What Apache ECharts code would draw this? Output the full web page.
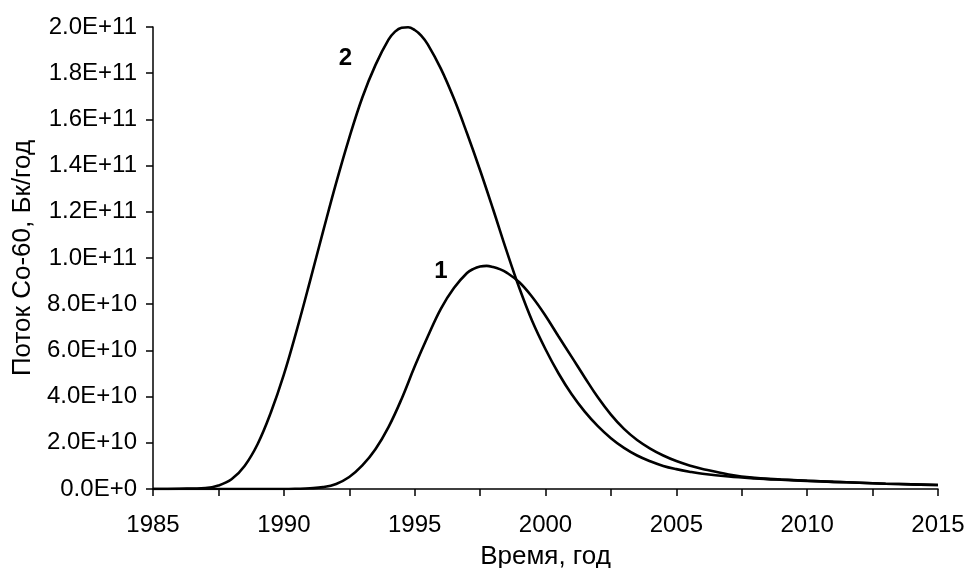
<!DOCTYPE html>
<html>
<head>
<meta charset="utf-8">
<script src="https://cdn.jsdelivr.net/npm/echarts@6/dist/echarts.min.js"></script>
<style>
  html, body { margin: 0; padding: 0; background: #fff; }
  #chart-container { width: 967px; height: 568px; }
</style>
</head>
<body>
<div id="chart-container"></div>
<script>
// Co-60 flux, in units of 1E10 Bq/year, against year
var years1 = [1985, 1986, 1987, 1988, 1989, 1990, 1990.5,
  1991, 1991.5, 1992, 1992.5, 1993, 1993.5, 1994, 1994.5, 1995, 1995.5,
  1996, 1996.5, 1997, 1997.25, 1997.5, 1997.75, 1998, 1998.25, 1998.5, 1999, 1999.5, 2000, 2000.5,
  2001, 2001.5, 2002, 2002.5, 2003, 2003.5, 2004, 2004.5, 2005, 2005.5, 2006,
  2007, 2008, 2009, 2010, 2011, 2012, 2013, 2014, 2015];
var flux1 = [0, 0, 0, 0, 0, 0, 0.01,
  0.03, 0.08, 0.22, 0.52, 1.02, 1.72, 2.68, 3.9, 5.3, 6.6,
  7.8, 8.7, 9.35, 9.53, 9.63, 9.66, 9.61, 9.52, 9.38, 8.95, 8.3, 7.5, 6.6,
  5.72, 4.83, 3.97, 3.22, 2.6, 2.12, 1.75, 1.45, 1.21, 1.02, 0.87,
  0.63, 0.48, 0.41, 0.36, 0.31, 0.27, 0.23, 0.2, 0.17];

var years2 = [1985, 1986, 1987, 1987.5, 1988, 1988.5, 1989, 1989.5, 1990, 1990.5,
  1991, 1991.5, 1992, 1992.5, 1993, 1993.5, 1994, 1994.25, 1994.5, 1994.75, 1995, 1995.25, 1995.5,
  1996, 1996.5, 1997, 1997.5, 1998, 1998.5, 1999, 1999.5, 2000, 2000.5,
  2001, 2001.5, 2002, 2002.5, 2003, 2003.5, 2004, 2004.5, 2005, 2005.5, 2006,
  2007, 2008, 2009, 2010, 2011, 2012, 2013, 2014, 2015];
var flux2 = [0, 0.01, 0.04, 0.15, 0.42, 1.0, 1.95, 3.3, 4.95, 6.9,
  9.0, 11.15, 13.25, 15.2, 16.95, 18.35, 19.45, 19.8, 19.97, 19.99, 19.87, 19.63, 19.25,
  18.2, 16.9, 15.4, 13.8, 12.1, 10.35, 8.7, 7.25, 6.05, 5.0,
  4.1, 3.35, 2.72, 2.2, 1.78, 1.45, 1.2, 1.0, 0.86, 0.75, 0.66,
  0.54, 0.46, 0.4, 0.35, 0.31, 0.27, 0.23, 0.2, 0.17];

var seriesNames = ['1', '2'];

var dom = document.getElementById('chart-container');
var myChart = echarts.init(dom, null, { renderer: 'canvas' });

function pairs(xs, vals) {
  return xs.map(function (y, i) { return [y, vals[i] * 1e10]; });
}

var font = 'Liberation Sans, Arial, sans-serif';

function curve(name, xs, vals, labelAt) {
  return {
    name: name,
    type: 'line',
    data: pairs(xs, vals),
    smooth: 0.4,
    showSymbol: false,
    silent: true,
    lineStyle: { color: '#000', width: 2.6 },
    markPoint: {
      symbol: 'circle',
      symbolSize: 0,
      silent: true,
      label: {
        show: true,
        formatter: name,
        color: '#000',
        fontWeight: 'bold',
        fontSize: 24,
        fontFamily: font
      },
      data: [{ coord: labelAt }]
    }
  };
}

var option = {
  animation: false,
  backgroundColor: '#fff',
  grid: { left: 153, right: 29, top: 27, bottom: 79, outerBoundsMode: 'none' },
  xAxis: {
    type: 'value',
    min: 1985,
    max: 2015,
    interval: 2.5,
    name: 'Время, год',
    nameLocation: 'middle',
    nameGap: 55,
    nameTextStyle: { color: '#000', fontSize: 26, fontFamily: font },
    axisLine: { onZero: false, lineStyle: { color: '#000', width: 1.5 } },
    axisTick: { length: 7, lineStyle: { color: '#000', width: 1.5 } },
    axisLabel: {
      color: '#000', fontSize: 24, fontFamily: font, margin: 24,
      formatter: function (v) { return v % 5 === 0 ? String(v) : ''; }
    },
    splitLine: { show: false }
  },
  yAxis: {
    type: 'value',
    min: 0,
    max: 2e11,
    interval: 2e10,
    name: 'Поток Co-60, Бк/год',
    nameLocation: 'middle',
    nameGap: 117,
    nameTextStyle: { color: '#000', fontSize: 26, fontFamily: font },
    axisLine: { show: true, lineStyle: { color: '#000', width: 1.5 } },
    axisTick: { show: true, length: 7, lineStyle: { color: '#000', width: 1.5 } },
    axisLabel: {
      color: '#000', fontSize: 24, fontFamily: font, margin: 16,
      formatter: function (v) { return v.toExponential(1).replace('e', 'E'); }
    },
    splitLine: { show: false }
  },
  series: [
    curve(seriesNames[0], years1, flux1, [1996.0, 9.4e10]),
    curve(seriesNames[1], years2, flux2, [1992.35, 1.866e11])
  ]
};

myChart.setOption(option);
window.addEventListener('resize', myChart.resize);
</script>
</body>
</html>
